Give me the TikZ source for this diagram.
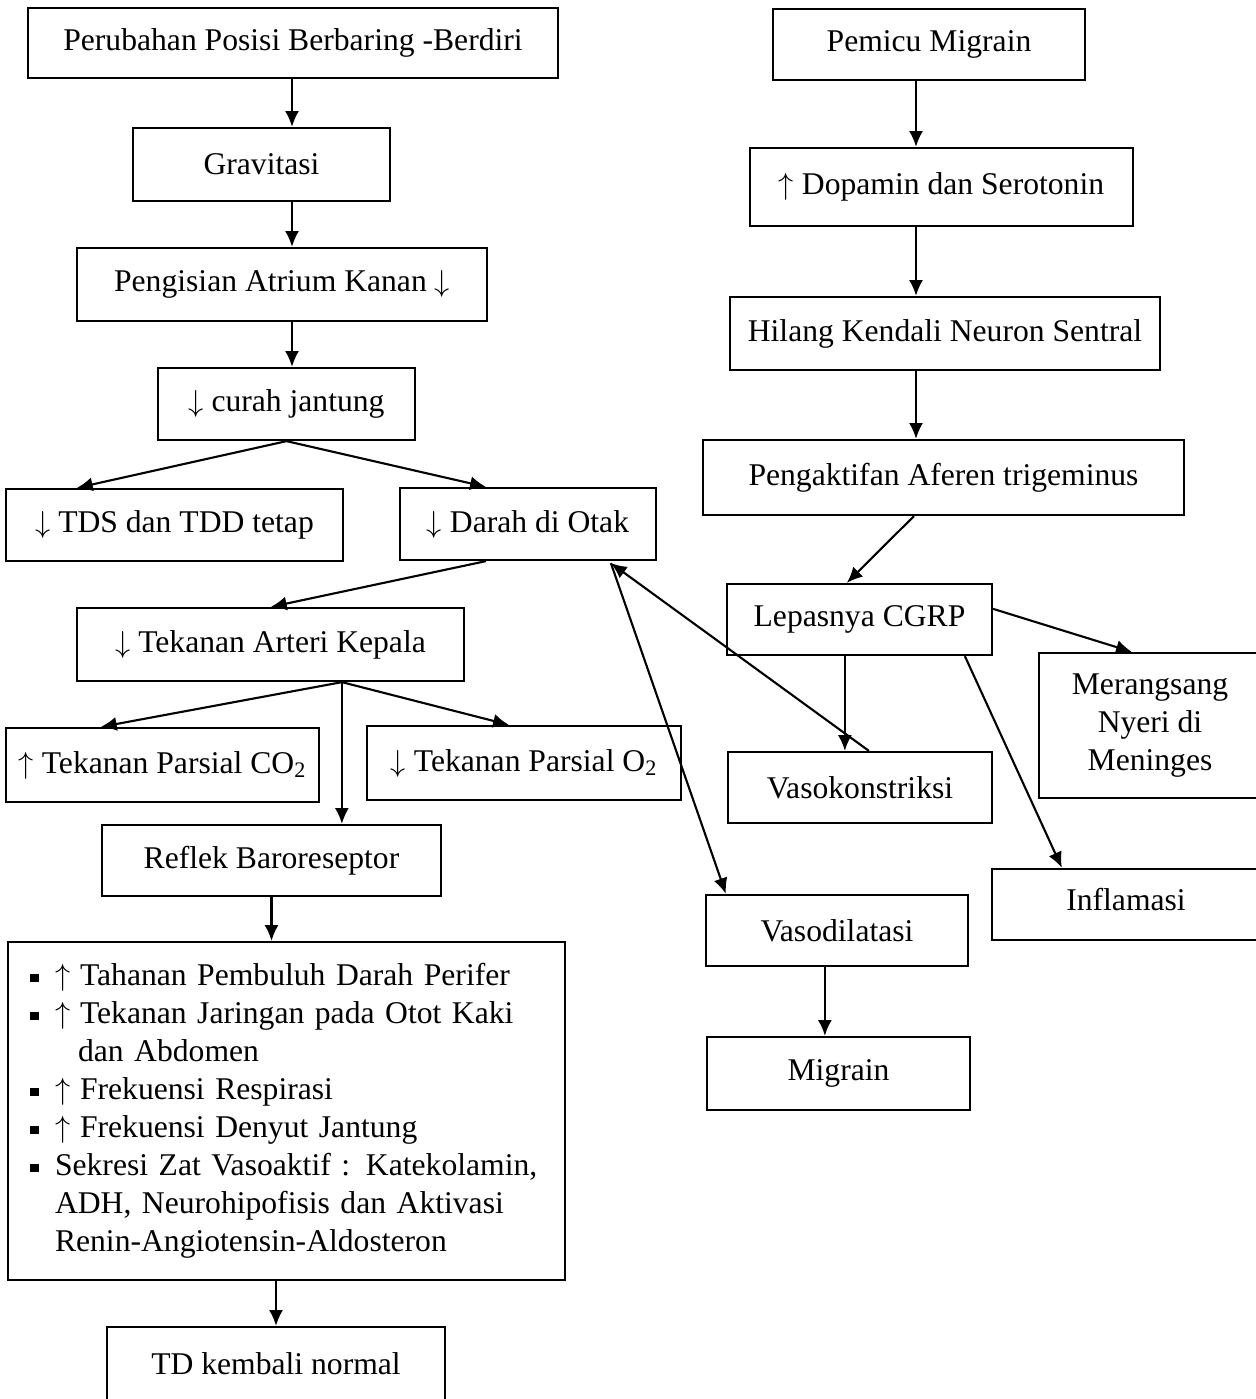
\documentclass[tikz,border=0pt]{standalone}
\usepackage{fontspec}
\setmainfont{Liberation Serif}
\usetikzlibrary{arrows.meta,calc}

\begin{document}
\begin{tikzpicture}[
    x=0.02cm, y=-0.02cm,
    >={Latex[length=9pt,width=8pt]},
    box/.style={draw, line width=1.3pt, inner sep=0pt,
        font=\fontsize{18}{21.6}\selectfont},
    flow/.style={->, line width=1.2pt},
    ]

    \def\bul{\makebox[0.5cm][l]{\rule[0.07cm]{0.17cm}{0.17cm}}}
    \def\up{\makebox[0.5cm][l]{$\uparrow$}}

    \useasboundingbox (0,0) rectangle (1256,1399);

    % left column
    \node[box, minimum width=10.6cm, minimum height=1.4cm] (perubahan) at (293,43) {Perubahan Posisi Berbaring -Berdiri};
    \node[box, minimum width=5.14cm, minimum height=1.46cm] (gravitasi) at (261.5,164.5) {Gravitasi};
    \node[box, minimum width=8.2cm, minimum height=1.46cm] (pengisian) at (282,284.5) {Pengisian Atrium Kanan $\downarrow$\hspace{0.6cm}};
    \node[box, minimum width=5.14cm, minimum height=1.44cm] (curah) at (286.5,404) {$\downarrow$ curah jantung};
    \node[box, minimum width=6.74cm, minimum height=1.44cm] (tds) at (174.5,525) {$\downarrow$ TDS dan TDD tetap\hspace{0.2cm}};
    \node[box, minimum width=5.12cm, minimum height=1.44cm] (darah) at (528,524) {$\downarrow$ Darah di Otak};
    \node[box, minimum width=7.74cm, minimum height=1.46cm] (arteri) at (270.5,644.5) {$\downarrow$ Tekanan Arteri Kepala};
    \node[box, minimum width=6.26cm, minimum height=1.48cm] (co2) at (162.5,765) {$\uparrow$ Tekanan Parsial CO\textsubscript{2}};
    \node[box, minimum width=6.28cm, minimum height=1.48cm] (o2) at (524,763) {$\downarrow$ Tekanan Parsial O\textsubscript{2}};
    \node[box, minimum width=6.78cm, minimum height=1.42cm] (reflek) at (271.5,860.5) {Reflek Baroreseptor};
    \node[box, minimum width=11.14cm, minimum height=6.76cm, align=left,
          text width=10.26cm] (respon) at (286.5,1111) {%
        \bul\up Tahanan Pembuluh Darah Perifer\\
        \bul\up Tekanan Jaringan pada Otot Kaki\\
        \hspace*{0.96cm}dan Abdomen\\
        \bul\up Frekuensi Respirasi\\
        \bul\up Frekuensi Denyut Jantung\\
        \bul Sekresi Zat Vasoaktif : Katekolamin,\\
        \hspace*{0.5cm}ADH, Neurohipofisis dan Aktivasi\\
        \hspace*{0.5cm}Renin-Angiotensin-Aldosteron};
    \node[box, minimum width=6.76cm, minimum height=1.48cm] (td) at (276,1364) {TD kembali normal};

    % right column
    \node[box, minimum width=6.24cm, minimum height=1.42cm] (pemicu) at (929,44.5) {Pemicu Migrain};
    \node[box, minimum width=7.66cm, minimum height=1.56cm] (dopamin) at (941.5,187) {$\uparrow$ Dopamin dan Serotonin};
    \node[box, minimum width=8.6cm, minimum height=1.46cm] (hilang) at (945,333.5) {Hilang Kendali Neuron Sentral};
    \node[box, minimum width=9.62cm, minimum height=1.5cm] (aferen) at (943.5,477.5) {Pengaktifan Aferen trigeminus};
    \node[box, minimum width=5.3cm, minimum height=1.42cm] (cgrp) at (859.5,619.5) {Lepasnya CGRP};
    \node[box, minimum width=4.44cm, minimum height=2.9cm, align=center] (meninges) at (1150,725.5) {Merangsang\\Nyeri di\\Meninges};
    \node[box, minimum width=5.28cm, minimum height=1.42cm] (vasokon) at (860,787.5) {Vasokonstriksi};
    \node[box, minimum width=5.36cm, minimum height=1.42cm] (inflamasi) at (1126,904.5) {\raisebox{0.2cm}{Inflamasi}};
    \node[box, minimum width=5.24cm, minimum height=1.42cm] (vasodil) at (837,930.5) {Vasodilatasi};
    \node[box, minimum width=5.26cm, minimum height=1.46cm] (migrain) at (838.5,1073.5) {Migrain};

    % helper points
    \coordinate (kiri) at (292,0);
    \coordinate (kanan) at (916,0);
    \coordinate (kaki) at ($(arteri.south west)+(266,0)$);
    \coordinate (otak) at ($(darah.south west)+(212,2)$);
    \coordinate (cgrpkon) at ($(cgrp.south west)+(119,0)$);
    \coordinate (vasobawah) at ($(vasodil.south west)+(120,0)$);

    % left arrows
    \draw[flow] (kiri |- perubahan.south) -- (kiri |- gravitasi.north);
    \draw[flow] (kiri |- gravitasi.south) -- (kiri |- pengisian.north);
    \draw[flow] (kiri |- pengisian.south) -- (kiri |- curah.north);
    \draw[flow] (curah.south) -- ($(tds.north west)+(72,0)$);
    \draw[flow] (curah.south) -- ($(darah.north west)+(87,0)$);
    \draw[flow] ($(darah.south west)+(87,0)$) -- ($(arteri.north west)+(195,0)$);
    \draw[flow] (kaki) -- ($(co2.north west)+(96,0)$);
    \draw[flow] (kaki) -- ($(o2.north west)+(143,0)$);
    \draw[flow] (kaki) -- (kaki |- reflek.north);
    \draw[flow] (reflek.south) -- (reflek.south |- respon.north);
    \draw[flow] (td.north |- respon.south) -- (td.north);

    % right arrows
    \draw[flow] (kanan |- pemicu.south) -- (kanan |- dopamin.north);
    \draw[flow] (kanan |- dopamin.south) -- (kanan |- hilang.north);
    \draw[flow] (kanan |- hilang.south) -- (kanan |- aferen.north);
    \draw[flow] ($(aferen.south west)+(212,0)$) -- ($(cgrp.north west)+(121,0)$);
    \draw[flow] ($(cgrp.north east)+(0,26)$) -- ($(meninges.north west)+(94,0)$);
    \draw[flow] (cgrpkon) -- (cgrpkon |- vasokon.north);
    \draw[flow] ($(cgrp.south west)+(239,0)$) -- ($(inflamasi.north west)+(71,0)$);
    \draw[flow] ($(vasokon.north west)+(142,0)$) -- (otak);
    \draw[flow] (otak) -- ($(vasodil.north west)+(21,0)$);
    \draw[flow] (vasobawah) -- (vasobawah |- migrain.north);

\end{tikzpicture}
\end{document}
